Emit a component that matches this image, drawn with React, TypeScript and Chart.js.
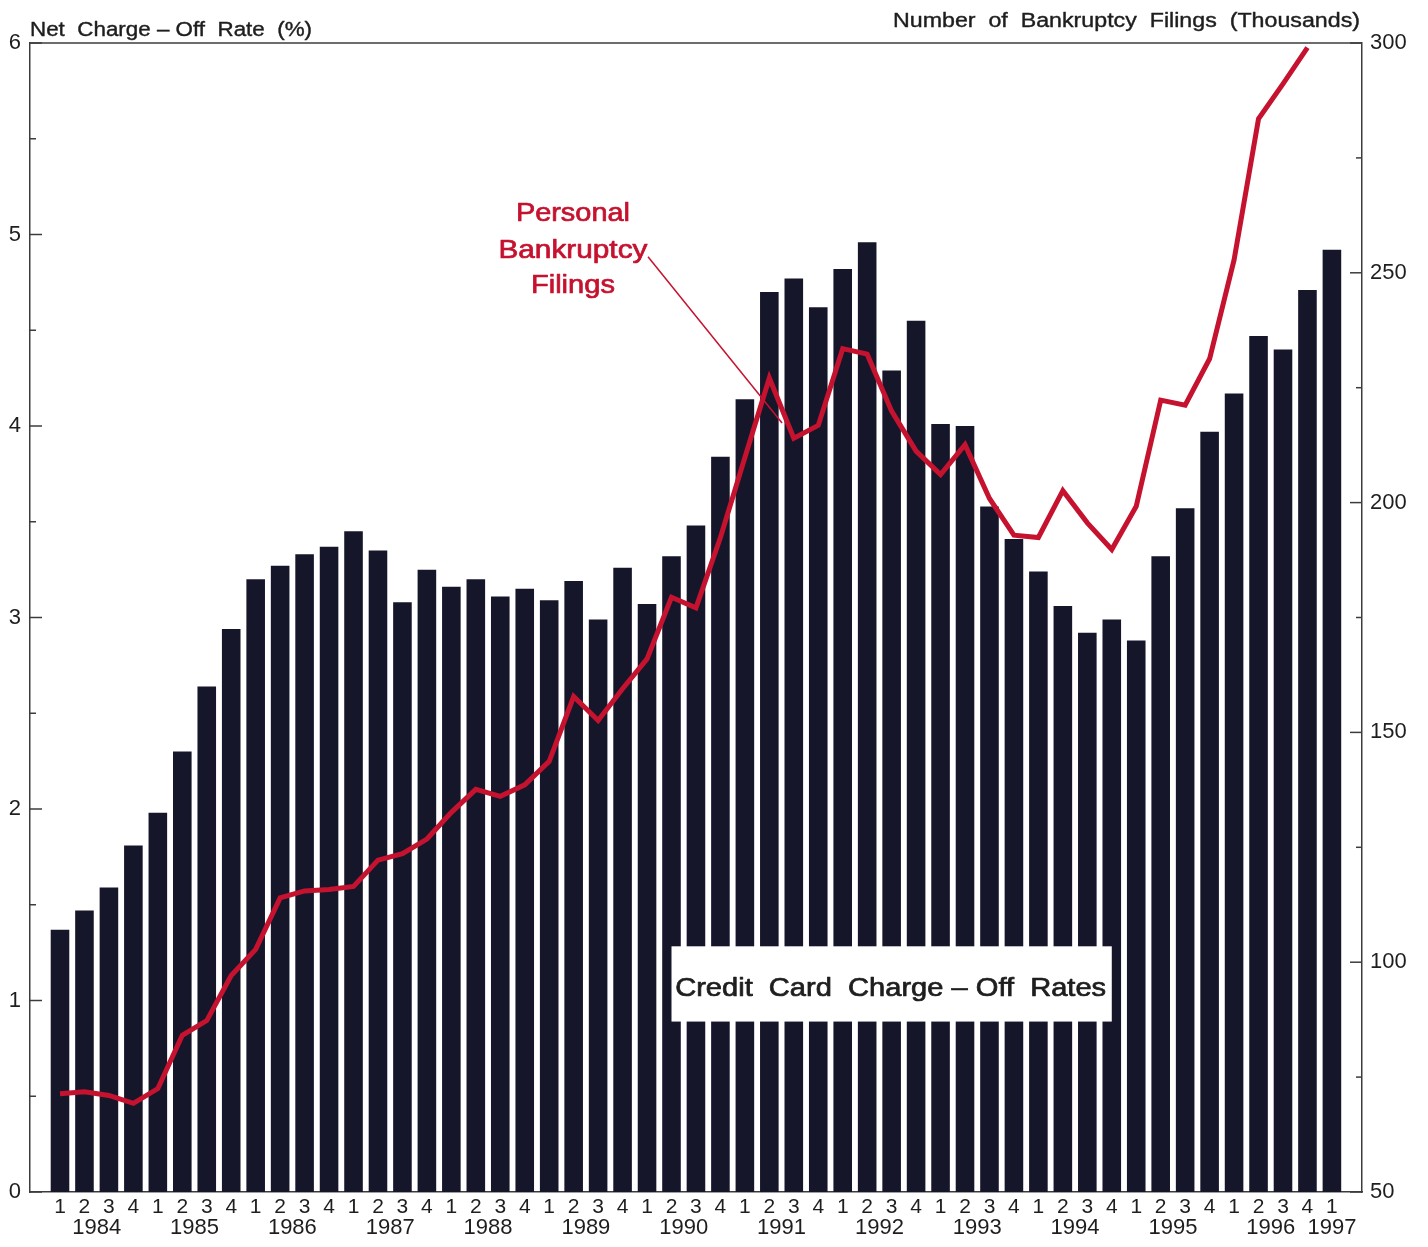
import React, { useEffect, useRef } from 'react';
import { Chart, registerables } from 'chart.js';

Chart.register(...registerables);

// ---------- data ----------
const years = ['1984', '1985', '1986', '1987', '1988', '1989', '1990', '1991', '1992', '1993', '1994', '1995', '1996', '1997'];

const quarterLabels = [
  '1', '2', '3', '4', '1', '2', '3', '4', '1', '2', '3', '4', '1', '2', '3', '4',
  '1', '2', '3', '4', '1', '2', '3', '4', '1', '2', '3', '4', '1', '2', '3', '4',
  '1', '2', '3', '4', '1', '2', '3', '4', '1', '2', '3', '4', '1', '2', '3', '4',
  '1', '2', '3', '4', '1',
];

// Credit card net charge-off rate (%), quarterly 1984Q1 - 1997Q1
const chargeOffRate = [
  1.37, 1.47, 1.59, 1.81,
  1.98, 2.30, 2.64, 2.94,
  3.20, 3.27, 3.33, 3.37,
  3.45, 3.35, 3.08, 3.25,
  3.16, 3.20, 3.11, 3.15,
  3.09, 3.19, 2.99, 3.26,
  3.07, 3.32, 3.48, 3.84,
  4.14, 4.70, 4.77, 4.62,
  4.82, 4.96, 4.29, 4.55,
  4.01, 4.00, 3.58, 3.41,
  3.24, 3.06, 2.92, 2.99,
  2.88, 3.32, 3.57, 3.97,
  4.17, 4.47, 4.40, 4.71,
  4.92,
];

// Personal bankruptcy filings (thousands), quarterly
const bankruptcyFilings: (number | null)[] = [
  71.4, 71.8, 71.0, 69.3,
  72.5, 84.1, 87.3, 97.1,
  102.8, 114.0, 115.5, 115.8,
  116.5, 122.2, 123.6, 126.8,
  132.6, 137.6, 136.1, 138.6,
  143.7, 157.8, 152.6, 159.5,
  166.0, 179.4, 177.1, 192.4,
  209.8, 227.1, 214.0, 216.8,
  233.5, 232.3, 219.9, 211.2,
  206.1, 212.6, 200.9, 192.9,
  192.4, 202.6, 195.6, 189.8,
  199.2, 222.3, 221.2, 231.3,
  252.8, 283.5, 291.1, 299.0,
  null,
];

const leftAxisTitle = 'Net  Charge \u2013 Off  Rate  (%)';
const rightAxisTitle = 'Number  of  Bankruptcy  Filings  (Thousands)';
const lineLabelLines = ['Personal', 'Bankruptcy', 'Filings'];
const barLabel = 'Credit  Card  Charge \u2013 Off  Rates';

// ---------- styling ----------
const FONT = '"Liberation Sans", Arial, Helvetica, sans-serif';
const TEXT = '#1e1e1e';
const FRAME = '#3c3c3c';
const BAR = '#16162b';
const RED = '#c5122f';

const X_MIN = -1.2265;
const X_MAX = 53.23;

// year tick centres derived from quarter positions
const yearCenters = years.map((_, k) => {
  const idx = quarterLabels.map((_, i) => i).filter((i) => Math.floor(i / 4) === k);
  return idx.reduce((s, v) => s + v, 0) / idx.length;
});

function drawFitted(ctx: CanvasRenderingContext2D, text: string, x: number, y: number, target: number, align: 'left' | 'center' | 'right', stroke = 0.6) {
  const w0 = ctx.measureText(text).width;
  const left = align === 'left' ? x : align === 'center' ? x - target / 2 : x - target;
  ctx.save();
  ctx.textAlign = 'left';
  ctx.translate(left, y);
  ctx.scale(target / w0, 1);
  ctx.fillText(text, 0, 0);
  if (stroke > 0) {
    ctx.strokeStyle = ctx.fillStyle as string;
    ctx.lineWidth = stroke;
    ctx.lineJoin = 'round';
    ctx.strokeText(text, 0, 0);
  }
  ctx.restore();
}

const decorPlugin = {
  id: 'decor',
  afterDraw(chart: any) {
    const { ctx, chartArea: a, scales } = chart;
    const sx = scales.x;
    const sy = scales.y;
    const sy2 = scales.y2;
    ctx.save();

    // top frame line
    ctx.strokeStyle = FRAME;
    ctx.lineWidth = 1.5;
    ctx.beginPath();
    ctx.moveTo(a.left, a.top);
    ctx.lineTo(a.right, a.top);
    ctx.stroke();

    // inside tick marks, left axis
    for (let v = sy.min; v <= sy.max + 1e-6; v += 0.5) {
      const py = sy.getPixelForValue(v);
      const len = Math.abs(v - Math.round(v)) < 1e-6 ? 12 : 6;
      ctx.beginPath();
      ctx.moveTo(a.left, py);
      ctx.lineTo(a.left + len, py);
      ctx.stroke();
    }
    // inside tick marks, right axis
    for (let v = sy2.min; v <= sy2.max + 1e-6; v += 25) {
      const py = sy2.getPixelForValue(v);
      const len = v % 50 === 0 ? 12 : 6;
      ctx.beginPath();
      ctx.moveTo(a.right, py);
      ctx.lineTo(a.right - len, py);
      ctx.stroke();
    }

    // axis titles
    ctx.fillStyle = TEXT;
    ctx.textBaseline = 'alphabetic';
    ctx.font = `20px ${FONT}`;
    drawFitted(ctx, leftAxisTitle, a.left, a.top - 7, 282, 'left', 0.4);
    drawFitted(ctx, rightAxisTitle, a.right - 2, a.top - 16, 467, 'right', 0.4);

    // bar label box
    const bx0 = sx.getPixelForValue(25);
    const bx1 = sx.getPixelForValue(43);
    const by0 = sy.getPixelForValue(1.283);
    const by1 = sy.getPixelForValue(0.89);
    ctx.fillStyle = '#ffffff';
    ctx.fillRect(bx0, by0, bx1 - bx0, by1 - by0);
    ctx.fillStyle = TEXT;
    ctx.font = `25px ${FONT}`;
    ctx.textBaseline = 'middle';
    drawFitted(ctx, barLabel, (bx0 + bx1) / 2 - 1, sy.getPixelForValue(1.06), 431, 'center', 0.7);

    // line label
    ctx.fillStyle = RED;
    ctx.font = `26px ${FONT}`;
    ctx.textBaseline = 'alphabetic';
    const lx = sx.getPixelForValue(20.97);
    const widths = [114, 149, 84];
    const baseVals = [261.2, 253.3, 245.7];
    lineLabelLines.forEach((t, k) => {
      drawFitted(ctx, t, lx, sy2.getPixelForValue(baseVals[k]), widths[k], 'center', 0.7);
    });
    // leader line
    ctx.strokeStyle = RED;
    ctx.lineWidth = 1.5;
    ctx.beginPath();
    ctx.moveTo(sx.getPixelForValue(24.04), sy2.getPixelForValue(253.5));
    ctx.lineTo(sx.getPixelForValue(29.52), sy2.getPixelForValue(217.3));
    ctx.stroke();

    ctx.restore();
  },
};

export default function App() {
  const ref = useRef<HTMLCanvasElement | null>(null);

  useEffect(() => {
    if (!ref.current) return;
    const chart = new Chart(ref.current, {
      type: 'bar',
      data: {
        datasets: [
          {
            type: 'line',
            label: 'Personal Bankruptcy Filings',
            data: bankruptcyFilings.map((v, i) => ({ x: i, y: v })) as any,
            borderColor: RED,
            borderWidth: 5,
            pointRadius: 0,
            tension: 0,
            borderJoinStyle: 'miter',
            xAxisID: 'x',
            yAxisID: 'y2',
            order: 0,
          } as any,
          {
            type: 'bar',
            label: 'Credit Card Charge-Off Rates',
            data: chargeOffRate.map((v, i) => ({ x: i, y: v })) as any,
            backgroundColor: BAR,
            borderWidth: 0,
            barPercentage: 0.76,
            categoryPercentage: 1,
            xAxisID: 'x',
            yAxisID: 'y',
            order: 1,
          } as any,
        ],
      },
      options: {
        responsive: false,
        maintainAspectRatio: false,
        animation: false,
        devicePixelRatio: 1,
        layout: { padding: { top: 43, left: 0, right: 0, bottom: 0 } },
        plugins: { legend: { display: false }, tooltip: { enabled: false } },
        scales: {
          x: {
            type: 'linear',
            position: 'bottom',
            min: X_MIN,
            max: X_MAX,
            offset: false,
            grid: { display: false, drawTicks: false },
            border: { display: true, color: FRAME, width: 1.5 },
            ticks: {
              autoSkip: false,
              maxRotation: 0,
              minRotation: 0,
              padding: 5,
              color: TEXT,
              font: { family: FONT, size: 21, lineHeight: 1 },
              callback: (v: any) => quarterLabels[Math.round(Number(v))] ?? '',
            },
            afterBuildTicks: (s: any) => {
              s.ticks = quarterLabels.map((_, i) => ({ value: i }));
            },
            afterFit: (s: any) => {
              s.height = 25;
            },
          },
          xYear: {
            type: 'linear',
            position: 'bottom',
            min: X_MIN,
            max: X_MAX,
            offset: false,
            grid: { display: false, drawTicks: false },
            border: { display: false },
            ticks: {
              autoSkip: false,
              maxRotation: 0,
              minRotation: 0,
              padding: 0,
              color: TEXT,
              font: { family: FONT, size: 22, lineHeight: 1 },
              callback: (v: any) => {
                const k = yearCenters.findIndex((c) => Math.abs(c - Number(v)) < 1e-6);
                return k >= 0 ? years[k] : '';
              },
            },
            afterBuildTicks: (s: any) => {
              s.ticks = yearCenters.map((c) => ({ value: c }));
            },
            afterFit: (s: any) => {
              s.height = 30;
            },
          },
          y: {
            position: 'left',
            min: 0,
            max: 6,
            grid: { display: false, drawTicks: false },
            border: { display: true, color: FRAME, width: 1.5 },
            ticks: { stepSize: 1, padding: 9, color: TEXT, font: { family: FONT, size: 22 } },
            afterFit: (s: any) => {
              s.width = 30;
            },
          },
          y2: {
            position: 'right',
            min: 50,
            max: 300,
            grid: { display: false, drawTicks: false },
            border: { display: true, color: FRAME, width: 1.5 },
            ticks: { stepSize: 50, padding: 8, color: TEXT, font: { family: FONT, size: 22 } },
            afterFit: (s: any) => {
              s.width = 66;
            },
          },
        } as any,
      },
      plugins: [decorPlugin],
    });
    return () => chart.destroy();
  }, []);

  return (
    <div style={{ position: 'absolute', left: 0, top: 0, width: 1428, height: 1247, background: '#ffffff' }}>
      <canvas ref={ref} width={1428} height={1247} style={{ display: 'block', width: 1428, height: 1247 }} />
    </div>
  );
}
